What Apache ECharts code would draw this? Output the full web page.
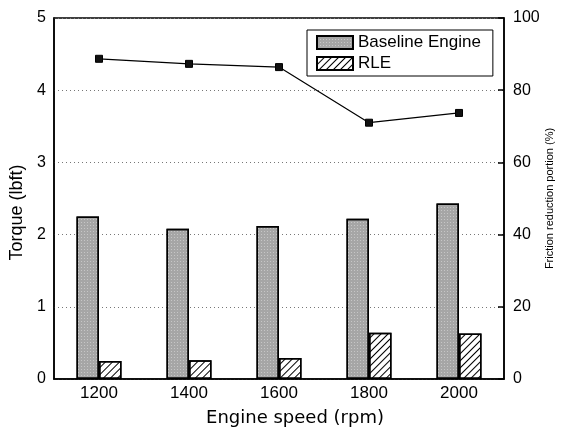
<!DOCTYPE html>
<html>
<head>
<meta charset="utf-8">
<script src="https://cdn.jsdelivr.net/npm/echarts@6/dist/echarts.min.js"></script>
<style>
html,body{margin:0;padding:0;background:#fff;}
#chart{width:565px;height:430px;}
</style>
</head>
<body>
<div id="chart"></div>
<script>
var categories = ['1200', '1400', '1600', '1800', '2000'];
var baselineTorque = [2.25, 2.08, 2.12, 2.22, 2.43];
var rleTorque = [0.25, 0.26, 0.29, 0.64, 0.63];
var frictionReduction = [88.7, 87.3, 86.4, 71.0, 73.7];
var leftTicks = [0, 1, 2, 3, 4, 5];
var rightTicks = [0, 20, 40, 60, 80, 100];

var chart = echarts.init(document.getElementById('chart'), null, {renderer: 'canvas'});
var font = 'Arial, "Liberation Sans", sans-serif';
chart.setOption({
  animation: false,
  backgroundColor: '#fff',
  grid: {left: 54, right: 61, top: 18, bottom: 51, containLabel: false, outerBoundsMode: 'none',
    show: true, borderColor: '#000', borderWidth: 1.5, backgroundColor: 'transparent'},
  legend: {
    left: 307, top: 30,
    orient: 'vertical',
    data: [{name: 'Baseline Engine', icon: 'rect'}, {name: 'RLE', icon: 'rect'}],
    itemWidth: 36, itemHeight: 13, itemGap: 4,
    borderColor: '#000', borderWidth: 1, padding: [4, 12, 4, 9],
    textStyle: {fontFamily: font, fontSize: 17, color: '#000'},
    backgroundColor: '#fff'
  },
  xAxis: {
    type: 'category',
    data: categories,
    name: 'Engine speed (rpm)',
    nameLocation: 'middle',
    nameGap: 30,
    nameTextStyle: {fontFamily: '"DejaVu Sans", sans-serif', fontSize: 18, color: '#000', padding: [0, 0, 0, 32]},
    axisLine: {lineStyle: {color: '#000', width: 1.5}},
    axisTick: {show: false},
    axisLabel: {fontFamily: font, fontSize: 17, color: '#000', margin: 6}
  },
  yAxis: [{
    type: 'value', min: leftTicks[0], max: leftTicks[leftTicks.length - 1], interval: 1,
    name: 'Torque (lbft)', nameLocation: 'middle', nameGap: 28,
    nameTextStyle: {fontFamily: font, fontSize: 18, color: '#000', padding: [0, 28, 0, 0]},
    axisLine: {show: true, lineStyle: {color: '#000', width: 1.5}},
    axisTick: {show: false},
    axisLabel: {fontFamily: font, fontSize: 16, color: '#000', margin: 8},
    splitLine: {show: true, lineStyle: {color: '#777', width: 1, type: [1, 3]}}
  }, {
    type: 'value', min: rightTicks[0], max: rightTicks[rightTicks.length - 1], interval: 20,
    position: 'right',
    name: 'Friction reduction portion (%)', nameLocation: 'middle', nameGap: 40, nameRotate: 90,
    nameMoveOverlap: false,
    nameTextStyle: {fontFamily: font, fontSize: 11, color: '#000'},
    axisLine: {show: true, lineStyle: {color: '#000', width: 1.5}},
    axisTick: {show: true, inside: true, length: 6, lineStyle: {color: '#000', width: 1.5}},
    axisLabel: {fontFamily: font, fontSize: 16, color: '#000', margin: 9},
    splitLine: {show: false}
  }],
  series: [{
    name: 'Baseline Engine', type: 'bar', yAxisIndex: 0,
    data: baselineTorque,
    barWidth: '25%', barGap: '0%',
    itemStyle: {
      color: '#a6a6a6', borderColor: '#000', borderWidth: 1.5,
      decal: {symbol: 'rect', symbolSize: 0.8, dashArrayX: [[1, 2]], dashArrayY: [1, 2], color: 'rgba(255,255,255,0.45)'}
    }
  }, {
    name: 'RLE', type: 'bar', yAxisIndex: 0,
    data: rleTorque,
    barWidth: '25%', barGap: '0%',
    itemStyle: {
      color: '#fff', borderColor: '#000', borderWidth: 1.5,
      decal: {symbol: 'rect', symbolSize: 1, dashArrayX: [[1, 0]], dashArrayY: [1, 4], rotation: -Math.PI / 4, color: '#000'}
    }
  }, {
    name: 'Friction', type: 'line', yAxisIndex: 1,
    data: frictionReduction,
    symbol: 'rect', symbolSize: 7,
    lineStyle: {color: '#000', width: 1.2},
    itemStyle: {color: '#111', borderColor: '#000'},
    z: 5
  }]
});
</script>
</body>
</html>
